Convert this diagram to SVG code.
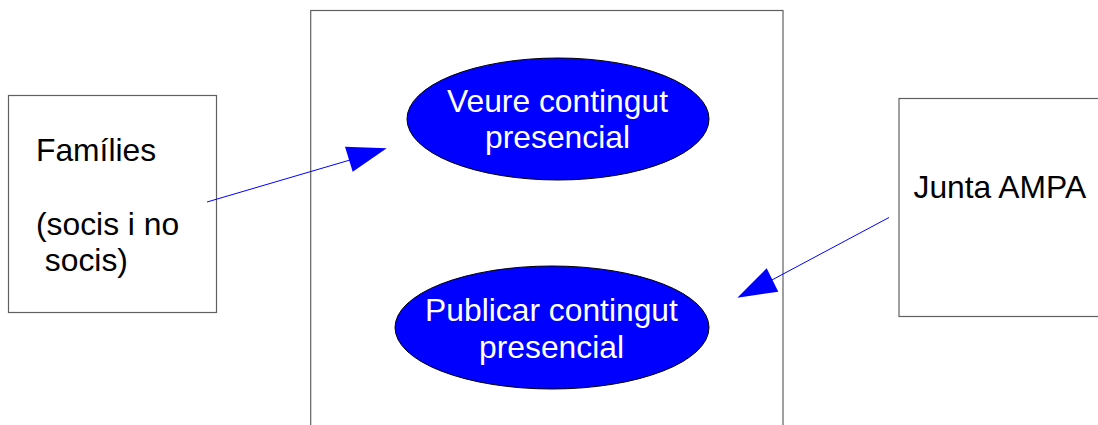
<svg xmlns="http://www.w3.org/2000/svg" width="1098" height="425" viewBox="0 0 1098 425">
<style>
.box{fill:#fff;stroke:#606060;stroke-width:1.2}
.uc{fill:#0000ff;stroke:#000;stroke-width:1}
.t{font-family:"Liberation Sans",Arial,sans-serif;font-size:31.8px;fill:#000}
.w{font-family:"Liberation Sans",Arial,sans-serif;font-size:31.8px;fill:#fff;text-anchor:middle}
.c{stroke:#0000ff;stroke-width:1;fill:none}
.h{fill:#0000ff;stroke:none}
</style>
<rect width="1098" height="425" fill="#fff"/>
<g id="system"><rect class="box" x="310.7" y="10.5" width="472.3" height="430"/></g>
<g id="familles"><rect class="box" x="8.5" y="95.5" width="208" height="217"/>
<text class="t" x="36" y="161">Famílies</text>
<text class="t" x="36" y="235">(socis i no</text>
<text class="t" x="36" y="271" xml:space="preserve"> socis)</text></g>
<g id="junta"><rect class="box" x="899" y="98.5" width="220" height="218"/>
<text class="t" x="913.5" y="198">Junta AMPA</text></g>
<g id="veure"><ellipse class="uc" cx="558" cy="119" rx="151" ry="61"/>
<text class="w" x="557.5" y="112">Veure contingut</text>
<text class="w" x="557.5" y="148">presencial</text></g>
<g id="publicar"><ellipse class="uc" cx="552" cy="327.5" rx="157" ry="61.5"/>
<text class="w" x="551.5" y="321">Publicar contingut</text>
<text class="w" x="551.5" y="358">presencial</text></g>
<g id="connectors">
<line class="c" x1="207" y1="202" x2="350" y2="160"/>
<polygon class="h" points="386.7,148.3 345,146.7 352.7,171.7"/>
<line class="c" x1="889" y1="217.5" x2="770" y2="281"/>
<polygon class="h" points="737.3,297.7 766.7,268.3 778.3,291.7"/>
</g>
</svg>
